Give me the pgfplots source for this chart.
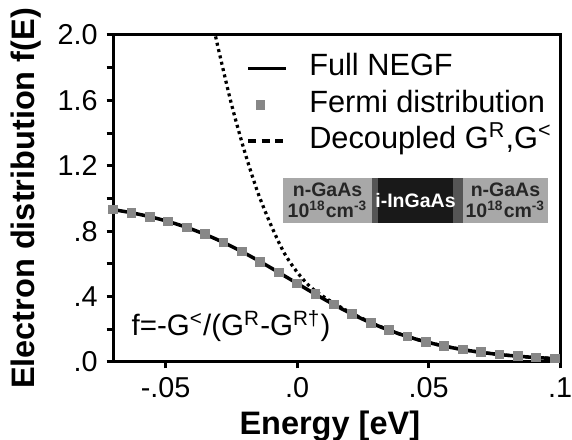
\documentclass[border=0pt]{standalone}
\usepackage{fontspec}
\setmainfont{Liberation Sans}
\usepackage{pgfplots}
\usepackage{pgfplotstable}
\pgfplotsset{compat=1.18}

\definecolor{fermigray}{RGB}{135,135,135}
\definecolor{lightbox}{RGB}{168,168,168}
\definecolor{darkstrip}{RGB}{85,85,85}
\definecolor{darkbox}{RGB}{25,25,25}

% full NEGF result
\pgfplotstableread{
E f
-0.070 0.9318
-0.065 0.9186
-0.060 0.9030
-0.055 0.8848
-0.050 0.8637
-0.045 0.8394
-0.040 0.8118
-0.035 0.7806
-0.030 0.7459
-0.025 0.7078
-0.020 0.6665
-0.015 0.6225
-0.010 0.5763
-0.005 0.5288
0.000 0.4808
0.005 0.4331
0.010 0.3866
0.015 0.3421
0.020 0.3003
0.025 0.2615
0.030 0.2260
0.035 0.1942
0.040 0.1658
0.045 0.1409
0.050 0.1192
0.055 0.1004
0.060 0.0843
0.065 0.0706
0.070 0.0590
0.075 0.0492
0.080 0.0409
0.085 0.0340
0.090 0.0282
0.095 0.0234
0.100 0.0194
}\negf

% Fermi distribution (markers)
\pgfplotstableread{
E f
-0.070 0.932
-0.063 0.9127
-0.056 0.8886
-0.049 0.8591
-0.042 0.8233
-0.035 0.7806
-0.028 0.7311
-0.021 0.6750
-0.014 0.6134
-0.007 0.5479
0.000 0.4808
0.007 0.4143
0.014 0.3509
0.021 0.2922
0.028 0.2398
0.035 0.1942
0.042 0.1555
0.049 0.1233
0.056 0.0970
0.063 0.0759
0.070 0.0590
0.077 0.0457
0.084 0.0353
0.091 0.0272
0.098 0.0209
}\fermi

% decoupled G^R, G^<
\pgfplotstableread{
E f
-0.0315 2.03
-0.030 1.92
-0.025 1.58
-0.020 1.29
-0.015 1.04
-0.010 0.84
-0.005 0.67
0.000 0.55
0.005 0.46
0.010 0.40
0.015 0.35
0.020 0.305
0.025 0.2650
0.030 0.2280
0.035 0.1950
0.040 0.1660
0.045 0.1409
0.050 0.1192
0.055 0.1004
0.060 0.0843
0.065 0.0706
0.070 0.0590
0.075 0.0492
0.080 0.0409
0.085 0.0340
0.090 0.0282
0.095 0.0234
0.100 0.0194
}\decoupled

\begin{document}
\begin{tikzpicture}
\begin{axis}[
    name=ax,
    scale only axis,
    width=178.8pt, height=130.8pt,
    xmin=-0.07, xmax=0.1, ymin=0, ymax=2,
    axis line style={line width=1.2pt},
    xtick={-0.05,0,0.05,0.1},
    xticklabels={-.05,.0,.05,.1},
    ytick={0,0.4,0.8,1.2,1.6,2.0},
    yticklabels={.0,.4,.8,1.2,1.6,2.0},
    minor ytick={0.2,0.6,1.0,1.4,1.8},
    xtick pos=left, ytick pos=left,
    tick align=outside,
    major tick length=2.6pt, minor tick length=2.6pt,
    every tick/.style={line width=1.2pt, black},
    tick label style={font=\fontsize{11.5}{13}\selectfont},
    /pgf/number format/assume math mode=true,
    xlabel={Energy [eV]},
    ylabel={Electron distribution f(E)},
    label style={font=\fontsize{13}{15}\selectfont\bfseries},
    xlabel style={at={(axis description cs:0.485,-0.197)}, anchor=center},
    ylabel style={at={(axis description cs:-0.195,0.5)}, anchor=center},
    legend cell align=left,
    legend style={at={(0.297,0.945)}, anchor=north west, draw=none, fill=none,
        inner sep=0pt, row sep=2.5pt,
        font=\fontsize{12.3}{14}\selectfont,
        nodes={inner sep=0pt, text height=9pt, text depth=3pt},
        /tikz/every odd column/.append style={column sep=8.8pt}},
]
\addplot[black, line width=1.4pt, smooth,
    legend image code/.code={\draw[black, line width=1.4pt] (0pt,0pt) -- (15pt,0pt);}]
    table[x=E, y=f] {\negf};
\addlegendentry{Full NEGF}
\addplot[only marks, mark=square*, mark size=1.75pt,
    mark options={fill=fermigray, draw=fermigray},
    legend image code/.code={\draw[fermigray, mark=square*, mark size=1.75pt,
        mark options={fill=fermigray, draw=fermigray}] plot coordinates {(5pt,0pt)};
        \path (0pt,0pt) (15pt,0pt);}]
    table[x=E, y=f] {\fermi};
\addlegendentry{Fermi distribution}
\addplot[black, line width=1.3pt, dash pattern=on 1.2pt off 1.4pt, smooth,
    legend image code/.code={\draw[black, line width=1.3pt, dash pattern=on 3.2pt off 2.2pt] (0pt,0pt) -- (15pt,0pt);}]
    table[x=E, y=f] {\decoupled};
\addlegendentry{Decoupled G\textsuperscript{R},G\textsuperscript{<}}

% device sketch
\fill[lightbox] (rel axis cs:0.380,0.4251) rectangle (rel axis cs:0.9732,0.5627);
\fill[darkstrip] (rel axis cs:0.5794,0.4251) rectangle (rel axis cs:0.783,0.5627);
\fill[darkbox] (rel axis cs:0.5928,0.4251) rectangle (rel axis cs:0.7606,0.5627);
\node[align=center, font=\fontsize{7.8}{8.2}\selectfont\bfseries, text=black!85]
    at (rel axis cs:0.48,0.4939) {n-GaAs\\10\textsuperscript{18}cm\textsuperscript{-3}};
\node[font=\fontsize{7.8}{8.2}\selectfont\bfseries, text=white]
    at (rel axis cs:0.6767,0.4939) {i-InGaAs};
\node[align=center, font=\fontsize{7.8}{8.2}\selectfont\bfseries, text=black!85]
    at (rel axis cs:0.878,0.4939) {n-GaAs\\10\textsuperscript{18}cm\textsuperscript{-3}};

\node[anchor=west, font=\fontsize{11.8}{14}\selectfont]
    at (rel axis cs:0.022,0.11) {f=-G\textsuperscript{<}/(G\textsuperscript{R}-G\textsuperscript{R†})};

\coordinate (bl) at (rel axis cs:-0.2528,-0.2355);
\coordinate (tr) at (rel axis cs:1.0268,1.107);
\end{axis}
\pgfresetboundingbox
\path[use as bounding box] (bl) rectangle (tr);
\end{tikzpicture}
\end{document}
